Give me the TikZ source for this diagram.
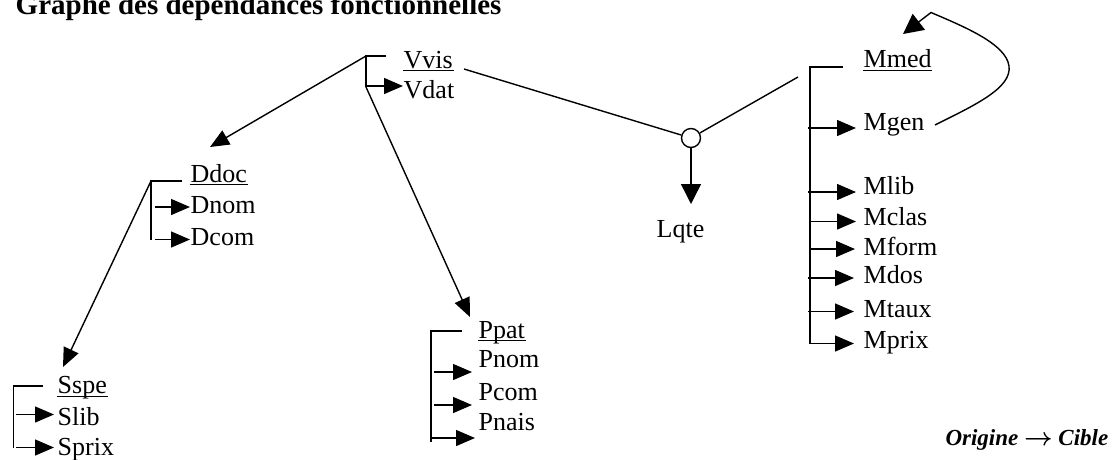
\documentclass[tikz,border=0pt]{standalone}
\usepackage{fontspec}
\setmainfont{Liberation Serif}
\usetikzlibrary{arrows.meta}

\begin{document}
\begin{tikzpicture}[x=1pt,y=-1pt,
  line width=1.4pt,
  lbl/.style={anchor=base west,inner sep=0pt,font=\fontsize{26}{28}\selectfont},
  arr/.style={-{Triangle[length=19pt,width=16pt]}},
  bigarr/.style={-{Triangle[length=20pt,width=20pt]}},
  junction/.style={circle,draw,fill=white,minimum size=19pt,inner sep=0pt}]

\useasboundingbox (0,0) rectangle (1114,459);

% title
\node[anchor=base west,inner sep=0pt,font=\fontsize{29}{31}\selectfont\bfseries]
  (title) at (15,14) {Graphe des dépendances fonctionnelles};

% underline for key attributes
\newcommand{\keyline}[1]{\draw[line width=1.2pt] ([yshift=-2.6pt]#1.base west) -- ([yshift=-2.6pt]#1.base east);}

% ---------- V block ----------
\node[lbl] (vvis) at (403,68) {Vvis};
\node[lbl] (vdat) at (403,98) {Vdat};
\keyline{vvis}
\coordinate (vtop) at (366,56);
\coordinate (vtopr) at (386,56);
\coordinate (vbot) at (366,87);
\coordinate (vdat-in) at (403,86);
\coordinate (vout) at (464,69);
\draw (vtopr) -- (vtop) -- (vbot);
\draw[arr] (vbot |- vdat-in) -- (vdat-in);

% ---------- D block ----------
\node[lbl] (ddoc) at (190,182) {Ddoc};
\node[lbl] (dnom) at (190,213) {Dnom};
\node[lbl] (dcom) at (190,245) {Dcom};
\keyline{ddoc}
\coordinate (dtop) at (151,181);
\coordinate (dtopr) at (182,181);
\coordinate (dbot) at (151,240);
\coordinate (dnom-in) at (190,207);
\coordinate (dcom-in) at (190,239.5);
\draw (dtopr) -- (dtop) -- (dbot);
\draw[arr] (155,207) -- (dnom-in);
\draw[arr] (155,239.5) -- (dcom-in);

% ---------- S block ----------
\node[lbl] (sspe) at (57,393.5) {Sspe};
\node[lbl] (slib) at (57,425) {Slib};
\node[lbl] (sprix) at (57,455) {Sprix};
\keyline{sspe}
\coordinate (stop) at (13.5,386);
\coordinate (stopr) at (43,386);
\coordinate (sbot) at (13.5,447.5);
\coordinate (slib-in) at (54,414.5);
\coordinate (sprix-in) at (54,447.5);
\draw (stopr) -- (stop) -- (sbot);
\draw[arr] (16,414.5) -- (slib-in);
\draw[arr] (16,447.5) -- (sprix-in);

% ---------- P block ----------
\node[lbl] (ppat) at (478,338) {Ppat};
\node[lbl] (pnom) at (478,367) {Pnom};
\node[lbl] (pcom) at (478,400) {Pcom};
\node[lbl] (pnais) at (478,430) {Pnais};
\keyline{ppat}
\coordinate (ptop) at (431,331);
\coordinate (ptopr) at (462,331);
\coordinate (pbot) at (431,442);
\coordinate (p1-in) at (472,372);
\coordinate (p2-in) at (472,405);
\coordinate (p3-in) at (475,438);
\draw (ptopr) -- (ptop) -- (pbot);
\draw[arr] (434,372) -- (p1-in);
\draw[arr] (434,405) -- (p2-in);
\draw[arr] (pbot |- p3-in) -- (p3-in);

% ---------- M block ----------
\node[lbl] (mmed) at (863,67.5) {Mmed};
\node[lbl] (mgen) at (863,130) {Mgen};
\node[lbl] (mlib) at (863,194.5) {Mlib};
\node[lbl] (mclas) at (863,225) {Mclas};
\node[lbl] (mform) at (863,255) {Mform};
\node[lbl] (mdos) at (863,283.5) {Mdos};
\node[lbl] (mtaux) at (863,317) {Mtaux};
\node[lbl] (mprix) at (863,348) {Mprix};
\keyline{mmed}
\coordinate (mtop) at (810,67);
\coordinate (mtopr) at (843,67);
\coordinate (mbot) at (810,343.5);
\draw (mtopr) -- (mtop) -- (mbot);
\draw[arr] (808,128) -- (856,128);
\draw[arr] (808,192) -- (856,192);
\draw[arr] (811,221.5) -- (856,221.5);
\draw[arr] (811,249) -- (855,249);
\draw[arr] (808,278) -- (854,278);
\draw[arr] (808,311.5) -- (854,311.5);
\draw[arr] (mbot) -- (854,343.5);

% self dependency of Mmed
\coordinate (mgen-out) at (935,125);
\coordinate (loop-top) at (931,12.5);
\coordinate (mmed-in) at (903,34);
\draw[bigarr] (mgen-out) .. controls (975,105) and (1012,88) .. (1009,66)
  .. controls (1006,44) and (965,27) .. (loop-top) -- (mmed-in);

% ---------- joint dependency V + M -> L ----------
\node[junction] (junc) at (691,138) {};
\node[lbl] (lqte) at (656,237) {Lqte};
\coordinate (lqte-in) at (691,204);
\coordinate (mjoin) at (798,77);
\draw (vout) -- (junc);
\draw (junc) -- (mjoin);
\draw[bigarr] (junc) -- (lqte-in);

% ---------- links between blocks ----------
\coordinate (ddoc-in) at (210,147);
\coordinate (sspe-in) at (63,367);
\coordinate (ppat-in) at (470,317);
\draw[arr] (vtop) -- (ddoc-in);
\draw[arr] (dtop) -- (sspe-in);
\draw[arr] (vbot) -- (ppat-in);

% legend
\node[anchor=base east,inner sep=0pt,font=\fontsize{23}{25}\selectfont\bfseries\itshape]
  (legend) at (1109,445) {Origine {\boldmath$\rightarrow$} Cible};

\end{tikzpicture}
\end{document}
